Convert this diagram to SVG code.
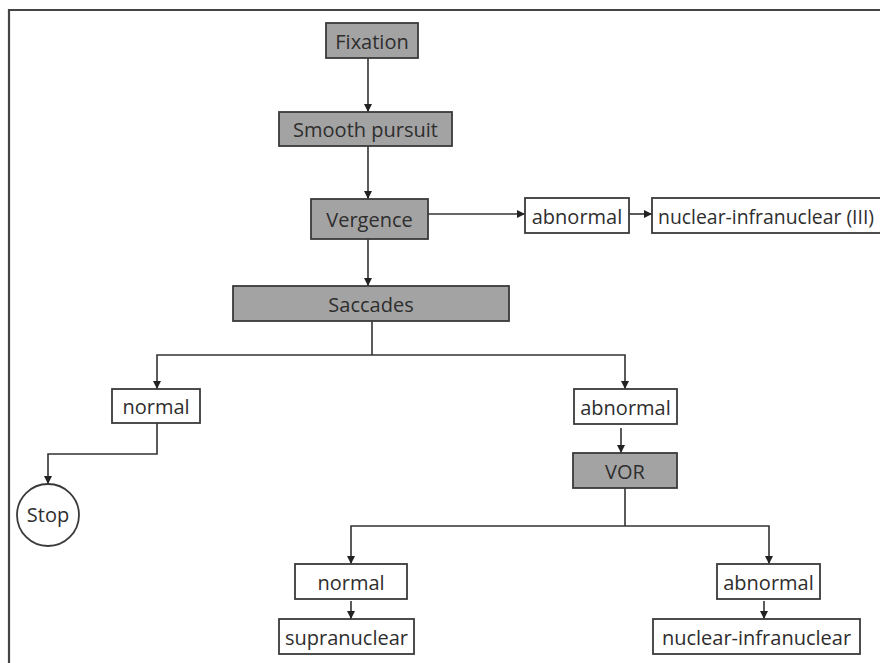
<svg xmlns="http://www.w3.org/2000/svg" width="880" height="663" viewBox="0 0 880 663">
<defs>
<style>
.box{stroke:#3a3a3a;stroke-width:1.8}
.g{fill:#a3a3a3}
.w{fill:#ffffff}
.t{font-family:"Open Sans","Noto Sans",sans-serif;font-size:20px;fill:#2e2e2e;text-anchor:middle}
.c{fill:none;stroke:#333;stroke-width:1.6}
.frame{fill:none;stroke:#444;stroke-width:2.2}
</style>
<marker id="ah" viewBox="0 0 10 10" refX="10" refY="5" markerWidth="9" markerHeight="8" markerUnits="userSpaceOnUse" orient="auto">
<path d="M0,0 L10,5 L0,10 z" fill="#222"/>
</marker>
</defs>
<rect width="880" height="663" fill="#ffffff"/>
<path class="frame" d="M9,663 V10 H880"/>

<g id="connectors">
<path class="c" d="M368,58 V112" marker-end="url(#ah)"/>
<path class="c" d="M368,146 V199" marker-end="url(#ah)"/>
<path class="c" d="M368,239 V286" marker-end="url(#ah)"/>
<path class="c" d="M428,214 H525" marker-end="url(#ah)"/>
<path class="c" d="M629,214 H652" marker-end="url(#ah)"/>
<path class="c" d="M372,321 V355"/>
<path class="c" d="M372,355 H157 V389" marker-end="url(#ah)"/>
<path class="c" d="M372,355 H625 V389" marker-end="url(#ah)"/>
<path class="c" d="M157,423 V454 H48 V484" marker-end="url(#ah)"/>
<path class="c" d="M621,428 V453" marker-end="url(#ah)"/>
<path class="c" d="M625,488 V526"/>
<path class="c" d="M625,526 H351 V564" marker-end="url(#ah)"/>
<path class="c" d="M625,526 H769 V564" marker-end="url(#ah)"/>
<path class="c" d="M351,601 V619" marker-end="url(#ah)"/>
<path class="c" d="M764,601 V619" marker-end="url(#ah)"/>
</g>

<g id="fixation"><rect class="box g" x="326" y="23" width="92" height="35"/><text class="t" x="372" y="49">Fixation</text></g>
<g id="smooth-pursuit"><rect class="box g" x="279" y="112" width="173" height="34"/><text class="t" x="365.5" y="137">Smooth pursuit</text></g>
<g id="vergence"><rect class="box g" x="311" y="199" width="117" height="40"/><text class="t" x="369.5" y="227">Vergence</text></g>
<g id="saccades"><rect class="box g" x="233" y="286" width="276" height="35"/><text class="t" x="371" y="312">Saccades</text></g>
<g id="vergence-abnormal"><rect class="box w" x="525" y="198" width="104" height="35"/><text class="t" x="577" y="224">abnormal</text></g>
<g id="nuclear-infranuclear-III"><rect class="box w" x="652" y="198" width="240" height="35"/><text class="t" x="658" y="224" style="text-anchor:start;font-size:19.4px">nuclear-infranuclear (III)</text></g>
<g id="saccades-normal"><rect class="box w" x="112" y="389" width="88" height="34"/><text class="t" x="156" y="414">normal</text></g>
<g id="saccades-abnormal"><rect class="box w" x="574" y="389" width="103" height="35"/><text class="t" x="625.5" y="415">abnormal</text></g>
<g id="stop"><circle class="box w" cx="48" cy="515" r="31"/><text class="t" x="48" y="522">Stop</text></g>
<g id="vor"><rect class="box g" x="573" y="453" width="104" height="35"/><text class="t" x="625" y="479">VOR</text></g>
<g id="vor-normal"><rect class="box w" x="295" y="564" width="112" height="35"/><text class="t" x="351" y="590">normal</text></g>
<g id="supranuclear"><rect class="box w" x="279" y="619" width="135" height="35"/><text class="t" x="346.5" y="645">supranuclear</text></g>
<g id="vor-abnormal"><rect class="box w" x="717" y="564" width="103" height="35"/><text class="t" x="768.5" y="590">abnormal</text></g>
<g id="nuclear-infranuclear"><rect class="box w" x="653" y="619" width="207" height="35"/><text class="t" x="756.5" y="645">nuclear-infranuclear</text></g>
</svg>
